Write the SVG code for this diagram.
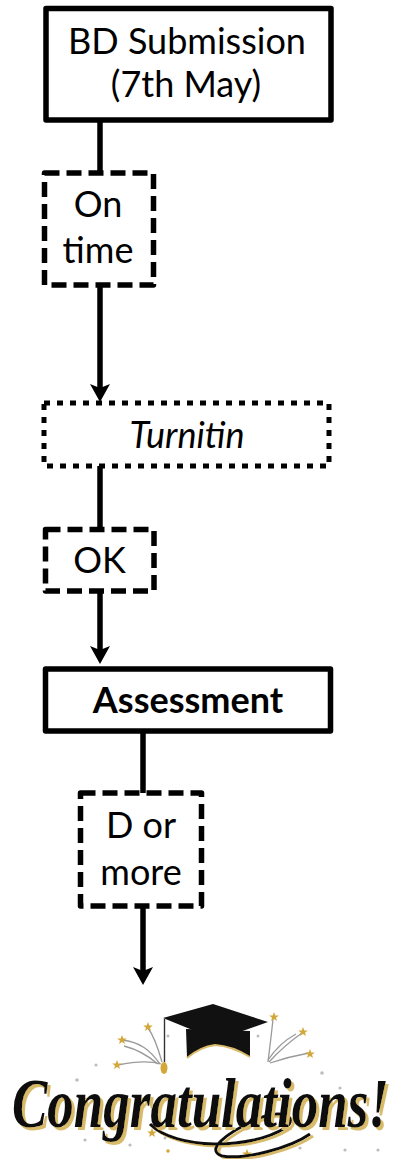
<svg xmlns="http://www.w3.org/2000/svg" width="410" height="1159" viewBox="0 0 410 1159">
<style>
.box{fill:#fff;stroke:#000;stroke-width:5.5;stroke-linejoin:round}
.dash{stroke-dasharray:15 7}
.dot{stroke-dasharray:6 7;stroke-width:5}
.t{font-family:Lato,"Liberation Sans",sans-serif;font-size:36px;fill:#000;text-anchor:middle}
.conn{stroke:#000;stroke-width:5.5;fill:none}
.spark{stroke:#9a9a9a;stroke-width:1.3;fill:none}
.gold{fill:#d2a73c}
.grey{fill:#bdbdbd}
.congrats{font-family:"Liberation Serif",serif;font-style:italic;font-weight:bold;font-size:53px;fill:#111}
</style>
<defs>
<marker id="arr" markerUnits="userSpaceOnUse" markerWidth="20" markerHeight="20" refX="10" refY="0" orient="auto" overflow="visible">
<path d="M0,-10 L18,0 L0,10 L4,0 Z" fill="#000"/>
</marker>
<polygon id="star" points="0,-5 1.3,-1.6 4.8,-1.5 2,0.7 3,4.1 0,2.1 -3,4.1 -2,0.7 -4.8,-1.5 -1.3,-1.6"/>
<filter id="goldshadow" x="-5%" y="-20%" width="110%" height="140%">
<feOffset in="SourceAlpha" dx="2.5" dy="2" result="off"/>
<feFlood flood-color="#d8bb6a"/>
<feComposite in2="off" operator="in" result="sh"/>
<feMerge><feMergeNode in="sh"/><feMergeNode in="SourceGraphic"/></feMerge>
</filter>
</defs>

<g id="connectors">
<line class="conn" x1="100" y1="120" x2="100" y2="173"/>
<line class="conn" x1="100" y1="285" x2="100" y2="394" marker-end="url(#arr)"/>
<line class="conn" x1="100" y1="466" x2="100" y2="529"/>
<line class="conn" x1="100" y1="591" x2="100" y2="656" marker-end="url(#arr)"/>
<line class="conn" x1="143" y1="731" x2="143" y2="793"/>
<line class="conn" x1="143" y1="906" x2="143" y2="977" marker-end="url(#arr)"/>
</g>

<g id="bd-submission">
<rect class="box" x="46" y="8.5" width="285" height="111.5"/>
<text class="t" x="187" y="54">BD Submission</text>
<text class="t" x="186" y="97">(7th May)</text>
</g>

<g id="on-time">
<rect class="box dash" x="44.5" y="173" width="109" height="112"/>
<text class="t" x="98" y="217">On</text>
<text class="t" x="98" y="263">time</text>
</g>

<g id="turnitin">
<rect class="box dot" x="44" y="403" width="285" height="63"/>
<text class="t" x="187" y="448" font-style="italic">Turnitin</text>
</g>

<g id="ok">
<rect class="box dash" x="45.5" y="529.5" width="108.5" height="61.5"/>
<text class="t" x="99.5" y="573">OK</text>
</g>

<g id="assessment">
<rect class="box" x="45.5" y="669" width="285" height="62"/>
<text class="t" x="188" y="713" font-weight="bold">Assessment</text>
</g>

<g id="d-or-more">
<rect class="box dash" x="80.5" y="793" width="121" height="113"/>
<text class="t" x="141" y="838">D or</text>
<text class="t" x="141" y="885">more</text>
</g>

<g id="congratulations">
<!-- sparks left -->
<path class="spark" d="M160,1064 C150,1050 140,1042 122,1040"/>
<path class="spark" d="M161,1064 C148,1060 132,1062 118,1065"/>
<path class="spark" d="M162,1062 C158,1048 154,1036 148,1028"/>
<path class="spark" d="M158,1064 C146,1054 132,1048 124,1046"/>
<!-- sparks right -->
<path class="spark" d="M268,1062 C270,1045 272,1030 273,1019"/>
<path class="spark" d="M269,1062 C280,1050 292,1040 302,1033"/>
<path class="spark" d="M270,1063 C285,1058 298,1055 309,1053"/>
<path class="spark" d="M268,1060 C276,1048 285,1040 296,1034"/>
<use href="#star" class="gold" x="122" y="1040"/>
<use href="#star" class="gold" x="117" y="1065"/>
<use href="#star" class="gold" x="148" y="1027"/>
<use href="#star" class="gold" x="274" y="1017"/>
<use href="#star" class="gold" x="303" y="1032"/>
<use href="#star" class="gold" x="310" y="1054"/>
<use href="#star" class="gold" x="152" y="1133"/>
<use href="#star" class="gold" x="247" y="1154"/>
<circle class="grey" cx="77" cy="1080" r="1.8"/>
<circle class="grey" cx="96" cy="1065" r="1.6"/>
<circle class="grey" cx="168" cy="1036" r="1.5"/>
<circle class="grey" cx="258" cy="1036" r="1.5"/>
<circle class="grey" cx="322" cy="1073" r="1.8"/>
<circle class="grey" cx="340" cy="1088" r="1.6"/>
<circle class="grey" cx="85" cy="1140" r="1.6"/>
<circle class="grey" cx="130" cy="1145" r="1.6"/>
<circle class="grey" cx="165" cy="1138" r="1.5"/>
<circle class="grey" cx="300" cy="1148" r="1.6"/>
<circle class="grey" cx="345" cy="1150" r="1.6"/>
<circle class="grey" cx="378" cy="1150" r="1.6"/>
<circle class="gold" cx="305" cy="1128" r="2"/>
<circle class="gold" cx="168" cy="1151" r="1.8"/>
<!-- cap -->
<path d="M186,1029 L250,1031 L250,1057 Q232,1046 215,1045 Q200,1047 187,1058 Z" fill="#111"/>
<path d="M187,1058 Q200,1047 215,1045 Q232,1046 250,1057" fill="none" stroke="#d8bb6a" stroke-width="2"/>
<polygon points="163,1018 213,1004 268,1022 217,1040" fill="#111"/>
<line x1="164.5" y1="1019" x2="164.5" y2="1062" stroke="#333" stroke-width="1.4"/>
<ellipse cx="164" cy="1068" rx="3.5" ry="6" class="gold"/>
<!-- swash -->
<path d="M150,1124 C175,1150 250,1150 285,1128 C300,1117 282,1108 255,1120 C225,1134 205,1150 222,1156 C245,1160 290,1148 310,1134" fill="none" stroke="#111" stroke-width="3" filter="url(#goldshadow)"/>
<text class="congrats" x="0" y="0" transform="translate(12,1127) scale(1,1.3)" filter="url(#goldshadow)">Congratulations!</text>
</g>
</svg>
